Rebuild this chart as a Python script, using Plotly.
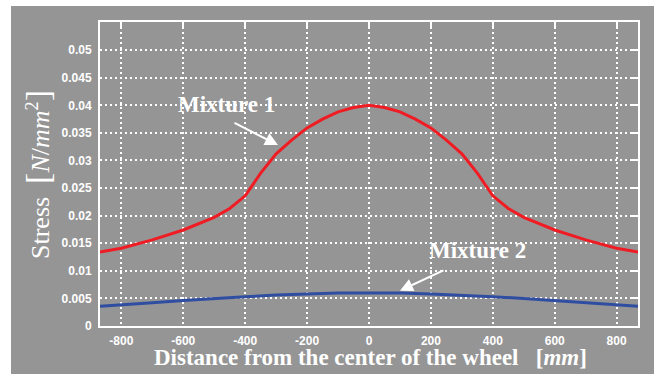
import plotly.graph_objects as go

# Data
x_m1 = [-869, -800, -700, -600, -500, -450, -400, -350, -300, -250, -200, -150, -100, -50, 0,
        50, 100, 150, 200, 250, 300, 350, 400, 450, 500, 600, 700, 800, 869]
y_m1 = [0.0134, 0.0141, 0.0156, 0.0174, 0.0197, 0.0213, 0.0236, 0.0277, 0.0312, 0.0337, 0.0359,
        0.0375, 0.0388, 0.0396, 0.0400,
        0.0396, 0.0388, 0.0375, 0.0359, 0.0337, 0.0312, 0.0277, 0.0236, 0.0213, 0.0197,
        0.0174, 0.0156, 0.0141, 0.0134]
x_m2 = [-869, -800, -700, -600, -500, -400, -300, -200, -100, 0, 100, 200, 300, 400, 500, 600, 700, 800, 869]
y_m2 = [0.0036, 0.0038, 0.0042, 0.0046, 0.0050, 0.0053, 0.0056, 0.0058, 0.0060, 0.0060,
        0.0060, 0.0058, 0.0056, 0.0053, 0.0050, 0.0046, 0.0042, 0.0038, 0.0036]
x_ticks = [-800, -600, -400, -200, 0, 200, 400, 600, 800]
y_ticks = [0, 0.005, 0.01, 0.015, 0.02, 0.025, 0.03, 0.035, 0.04, 0.045, 0.05]
y_tick_text = ["0", "0.005", "0.01", "0.015", "0.02", "0.025", "0.03", "0.035", "0.04", "0.045", "0.05"]
x_range = [-869, 869]
y_range = [0, 0.0551]

GRAY = "#959595"
tickfont = dict(family="Liberation Sans Narrow, Liberation Sans, Arial", size=12, color="white", weight="bold")
serif = "Liberation Serif, Times New Roman, serif"

fig = go.Figure()
fig.add_trace(go.Scatter(x=x_m1, y=y_m1, mode="lines", line=dict(color="#f01c24", width=3),
                         showlegend=False, hoverinfo="skip"))
fig.add_trace(go.Scatter(x=x_m2, y=y_m2, mode="lines", line=dict(color="#2f4ea2", width=3),
                         showlegend=False, hoverinfo="skip"))
# invisible trace for top/right tick axes
fig.add_trace(go.Scatter(x=[0], y=[0.02], xaxis="x2", yaxis="y2", mode="markers",
                         marker=dict(opacity=0), showlegend=False, hoverinfo="skip"))

fig.update_layout(
    width=660, height=374,
    margin=dict(l=100, r=22, t=22, b=48),
    paper_bgcolor="white",
    plot_bgcolor=GRAY,
    xaxis=dict(range=x_range, tickvals=x_ticks, ticktext=[str(v) for v in x_ticks],
               showgrid=True, gridcolor="white", gridwidth=1.5, griddash="2px,3px",
               zeroline=False, showline=True, linecolor="white", linewidth=2,
               ticks="", tickfont=tickfont, ticklabelstandoff=3),
    yaxis=dict(range=y_range, tickvals=y_ticks, ticktext=y_tick_text,
               showgrid=True, gridcolor="white", gridwidth=1.5, griddash="2px,3px",
               zeroline=False, showline=True, linecolor="white", linewidth=2,
               ticks="", tickfont=tickfont, ticklabelstandoff=4),
    xaxis2=dict(range=x_range, tickvals=x_ticks, overlaying="x", side="top", anchor="y",
                showgrid=False, zeroline=False, showline=True, linecolor="white", linewidth=2,
                ticks="inside", ticklen=7, tickwidth=2, tickcolor="white", showticklabels=False),
    yaxis2=dict(range=y_range, tickvals=y_ticks, overlaying="y", side="right", anchor="x",
                showgrid=False, zeroline=False, showline=True, linecolor="white", linewidth=2,
                ticks="inside", ticklen=7, tickwidth=2, tickcolor="white", showticklabels=False),
    shapes=[dict(type="rect", xref="paper", yref="paper",
                 x0=(11 - 100) / 538, x1=(654 - 100) / 538,
                 y0=(326 - 374) / 304, y1=(326 - 6) / 304,
                 fillcolor=GRAY, line=dict(width=0), layer="below")],
    annotations=[
        dict(text="Mixture 1", x=-459, y=0.0402, xref="x", yref="y", showarrow=False,
             xanchor="center", yanchor="middle",
             font=dict(family=serif, size=23, color="white", weight="bold")),
        dict(text="Mixture 2", x=349, y=0.0136, xref="x", yref="y", showarrow=False,
             xanchor="center", yanchor="middle",
             font=dict(family=serif, size=23, color="white", weight="bold")),
        dict(text="", x=-294, y=0.0328, xref="x", yref="y", showarrow=True,
             ax=-45, ay=-23, arrowhead=2, arrowsize=1.3, arrowwidth=2, arrowcolor="white"),
        dict(text="", x=100, y=0.0064, xref="x", yref="y", showarrow=True,
             ax=45, ay=-21, arrowhead=2, arrowsize=1.3, arrowwidth=2, arrowcolor="white"),
        dict(text="Stress  <span style='font-size:34px'>[</span><i>N</i>/<i>mm</i><sup>2</sup>"
                  "<span style='font-size:34px'>]</span>",
             x=(37 - 100) / 538, y=(326 - 175) / 304,
             xref="paper", yref="paper", showarrow=False, textangle=-90,
             xanchor="center", yanchor="middle",
             font=dict(family=serif, size=26, color="white")),
        dict(text="Distance from the center of the wheel   [<i>mm</i>]",
             x=(370 - 100) / 538, y=(326 - 357) / 304,
             xref="paper", yref="paper", showarrow=False,
             xanchor="center", yanchor="middle",
             font=dict(family=serif, size=23, color="white", weight="bold")),
    ],
)

fig.write_html("out.html")
